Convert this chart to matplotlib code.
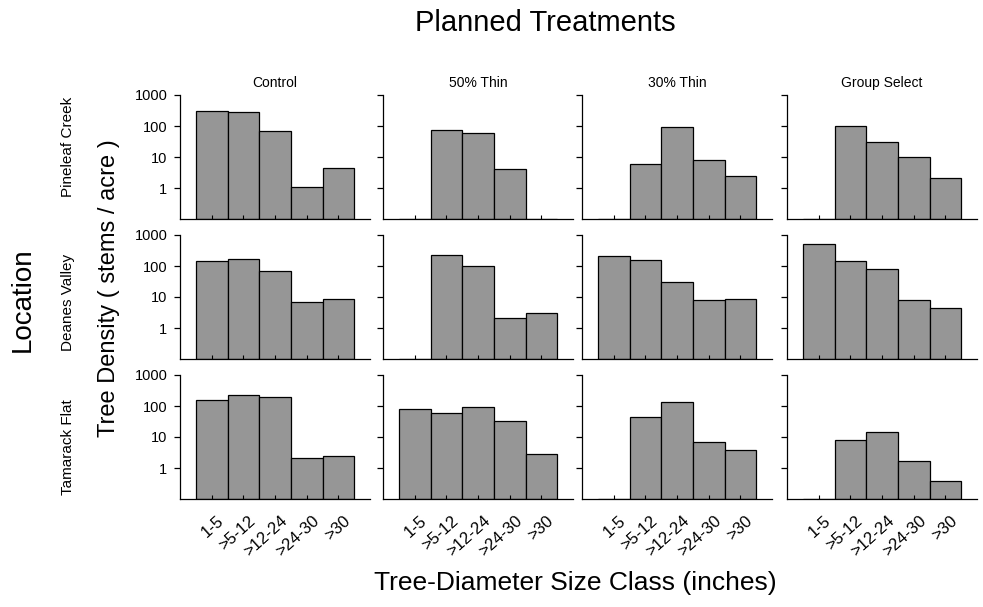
import matplotlib.pyplot as plt
import matplotlib.transforms as mtransforms
import numpy as np

plt.rcParams['font.family'] = ['Liberation Sans', 'DejaVu Sans']

# size classes and plot layout labels
size_classes = ['1-5', '>5-12', '>12-24', '>24-30', '>30']
treatments = ['Control', '50% Thin', '30% Thin', 'Group Select']
locations = ['Pineleaf Creek', 'Deanes Valley', 'Tamarack Flat']

# tree density (stems / acre) per treatment, one list per size class order
pineleaf_creek = [
    [300, 280, 70, 1.0, 4.2],
    [0, 73, 60, 4.0, 0],
    [0, 5.9, 95, 7.9, 2.4],
    [0, 102, 30, 9.8, 2.0],
]
deanes_valley = [
    [148, 163, 71, 6.9, 8.8],
    [0, 225, 100, 1.95, 2.9],
    [214, 152, 30, 8.0, 8.4],
    [515, 140, 78, 7.8, 4.3],
]
tamarack_flat = [
    [156, 220, 190, 1.95, 2.4],
    [78, 61, 90, 32, 2.8],
    [0, 43, 131, 7.0, 3.6],
    [0, 8.0, 14.5, 1.64, 0.29],
]
density = [pineleaf_creek, deanes_valley, tamarack_flat]

W, H = 983, 607
fig = plt.figure(figsize=(W / 100, H / 100), dpi=100)

col_left = [180, 383, 582, 787]
row_top = [95, 235, 375]
ax_w, ax_h = 190, 124
label_y = [147, 302, 447]

x = np.arange(1, len(size_classes) + 1)

for r, loc in enumerate(locations):
    for c, trt in enumerate(treatments):
        ax = fig.add_axes([col_left[c] / W, 1 - (row_top[r] + ax_h) / H,
                           ax_w / W, ax_h / H])
        vals = np.array(density[r][c], dtype=float)
        ax.bar(x, vals, width=1.0, bottom=0.1, color='#969696',
               edgecolor='black', linewidth=0.9)
        ax.set_yscale('log')
        ax.set_ylim(0.1, 1000)
        ax.set_xlim(0, 6)
        ax.set_yticks([1, 10, 100, 1000])
        ax.yaxis.set_minor_locator(plt.NullLocator())
        ax.set_xticks(x)
        for s in ['top', 'right']:
            ax.spines[s].set_visible(False)
        for s in ['left', 'bottom']:
            ax.spines[s].set_linewidth(0.9)
        ax.tick_params(axis='y', direction='out', length=4, width=0.9,
                       labelsize=10.5, pad=5)
        ax.tick_params(axis='x', direction='in', length=3, width=0.8)
        if c == 0:
            ax.set_yticklabels(['1', '10', '100', '1000'])
        else:
            ax.set_yticklabels([])
        if r == len(locations) - 1:
            ax.set_xticklabels(size_classes, rotation=42, ha='right',
                               va='top', rotation_mode='anchor', fontsize=12)
            shift = mtransforms.ScaledTranslation(5 / 100, -9 / 100,
                                                  fig.dpi_scale_trans)
            for lab in ax.get_xticklabels():
                lab.set_transform(lab.get_transform() + shift)
        else:
            ax.set_xticklabels([])
        if r == 0:
            ax.set_title(trt, fontsize=10, pad=6)

    fig.text(68 / W, 1 - label_y[r] / H, loc, rotation=90,
             ha='center', va='center', fontsize=11)

fig.text(545 / W, 1 - 23 / H, 'Planned Treatments', ha='center',
         va='center', fontsize=21)
fig.text(23 / W, 1 - 300 / H, 'Location', rotation=90, ha='center',
         va='center', fontsize=20)
fig.text(109 / W, 1 - 288 / H, 'Tree Density ( stems / acre )',
         rotation=90, ha='center', va='center', fontsize=17)
fig.text(575 / W, 1 - 583 / H, 'Tree-Diameter Size Class (inches)',
         ha='center', va='center', fontsize=19)

fig.savefig('out.png', dpi=100)
